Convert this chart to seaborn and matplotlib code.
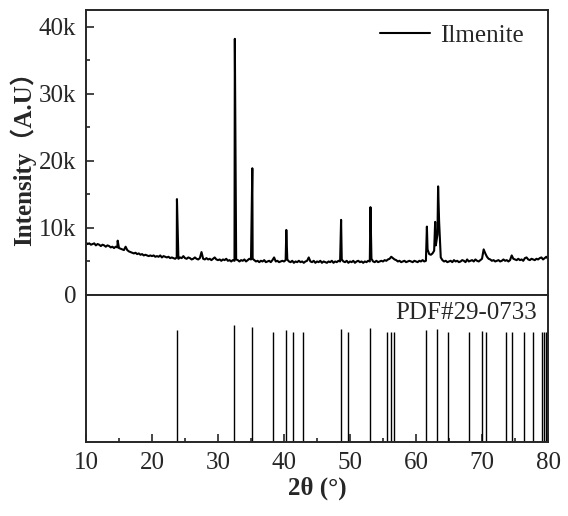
import numpy as np
import pandas as pd
import matplotlib
matplotlib.use("Agg")
import matplotlib.pyplot as plt
import seaborn as sns
from matplotlib.ticker import MultipleLocator, FuncFormatter

# measured pattern: baseline intensity (k counts) every 0.25 deg from 10 to 80
scan_start = 10.0
scan_step = 0.25
baseline_k = [
    7.8, 7.6, 7.7, 7.5, 7.6, 7.7, 7.4, 7.6, 7.5, 7.3, 7.5, 7.4, 7.2, 7.4, 7.3, 7.1, 7.2, 7.0, 7.2, 7.1,
    7.0, 6.9, 6.8, 6.7, 7.2, 6.7, 6.5, 6.4, 6.3, 6.2, 6.3, 6.1, 6.2, 6.0, 6.1, 5.9, 6.0, 5.9, 5.8, 5.9,
    5.8, 5.9, 5.7, 5.8, 5.7, 5.9, 5.6, 5.8, 5.7, 5.6, 5.7, 5.5, 5.6, 5.5, 5.4, 5.6, 5.4, 5.6, 5.5, 5.8,
    5.5, 5.4, 5.6, 5.5, 5.3, 5.4, 5.6, 5.4, 5.3, 5.5, 6.4, 5.4, 5.3, 5.5, 5.3, 5.4, 5.2, 5.4, 5.6, 5.3,
    5.2, 5.3, 5.1, 5.3, 5.2, 5.4, 5.1, 5.2, 5.0, 5.2, 5.1, 5.3, 5.2, 5.0, 5.2, 5.1, 5.3, 5.0, 5.2, 5.4,
    5.3, 5.4, 5.2, 5.0, 5.1, 4.9, 5.1, 5.0, 5.2, 4.9, 5.0, 5.1, 4.9, 5.2, 5.6, 5.0, 5.1, 4.9, 5.0, 5.1,
    5.0, 5.2, 5.3, 5.0, 4.9, 5.1, 4.8, 5.0, 4.9, 5.1, 4.9, 5.0, 4.8, 5.0, 5.1, 5.6, 5.0, 4.9, 5.1, 4.8,
    5.0, 4.9, 5.1, 4.8, 5.0, 4.9, 4.8, 5.0, 4.9, 5.1, 4.8, 5.0, 4.9, 5.1, 5.0, 5.3, 5.0, 4.9, 5.1, 4.8,
    5.0, 4.9, 5.1, 4.8, 5.0, 5.1, 4.9, 5.0, 4.8, 5.0, 4.9, 5.1, 5.0, 5.4, 5.0, 4.9, 5.1, 4.9, 5.0, 5.1,
    5.0, 5.2, 5.1, 5.3, 5.4, 5.7, 5.5, 5.3, 5.2, 5.0, 5.1, 4.9, 5.0, 5.1, 4.9, 5.0, 5.1, 5.0, 4.9, 5.1,
    5.0, 4.9, 5.1, 5.0, 5.2, 5.0, 5.1, 6.8, 6.1, 6.0, 6.2, 6.6, 7.4, 9.0, 11.0, 5.6, 5.2, 5.0, 5.1, 4.9,
    5.0, 5.1, 4.9, 5.2, 5.0, 5.1, 4.9, 5.0, 5.2, 5.1, 4.9, 5.3, 5.0, 5.1, 5.2, 5.0, 5.3, 5.1, 5.0, 5.2,
    5.4, 6.8, 6.2, 5.7, 5.4, 5.3, 5.1, 5.2, 5.0, 5.1, 5.2, 5.0, 5.1, 5.3, 5.1, 5.2, 5.0, 5.2, 5.9, 5.4,
    5.3, 5.2, 5.4, 5.2, 5.3, 5.1, 5.5, 5.6, 5.3, 5.2, 5.4, 5.3, 5.2, 5.4, 5.3, 5.5, 5.6, 5.3, 5.5, 5.7,
    5.4,
]

# peak apexes of the measured pattern
peak_two_theta = [14.8, 23.78, 32.55, 35.2, 40.35, 48.65, 53.1, 61.65, 62.9, 63.35]
peak_k = [8.1, 14.3, 38.2, 18.9, 9.7, 11.2, 13.1, 10.2, 10.9, 16.2]

# reference card PDF#29-0733 (relative stick heights)
card_two_theta = [23.74, 32.45, 35.2, 38.3, 40.26, 41.4, 42.93, 48.64, 49.75, 53.03,
                  55.56, 56.2, 56.7, 61.5, 63.2, 64.9, 68.1, 70.05, 70.6, 73.7,
                  74.6, 76.36, 77.7, 79.05, 79.4, 79.7]
card_rel = [76.2, 79.6, 78.1, 74.7, 76.2, 74.7, 74.7, 76.7, 74.7, 77.4,
            75.1, 75.1, 74.7, 76.2, 76.7, 74.7, 74.7, 75.6, 75.1, 74.7,
            75.1, 74.7, 74.7, 74.7, 74.7, 74.7]

x_ticks = [10, 20, 30, 40, 50, 60, 70, 80]

scan_x = [scan_start + i * scan_step for i in range(len(baseline_k))]
pattern = pd.DataFrame({
    "two_theta": scan_x + peak_two_theta,
    "intensity": [v * 1000 for v in baseline_k] + [v * 1000 for v in peak_k],
}).sort_values("two_theta")

sns.set_style("ticks")
plt.rcParams["font.family"] = ["Liberation Serif", "Noto Sans CJK SC"]
plt.rcParams["font.size"] = 18
plt.rcParams["axes.linewidth"] = 1.4

fig = plt.figure(figsize=(5.68, 5.16), dpi=100)
ax_top = fig.add_axes([0.1514, 0.4283, 0.8134, 0.5523])
ax_bot = fig.add_axes([0.1514, 0.1428, 0.8134, 0.2855])

sns.lineplot(data=pattern, x="two_theta", y="intensity", ax=ax_top,
             color="black", linewidth=1.5, label="Ilmenite", sort=False)
ax_top.set_xlim(10, 80)
ax_top.set_ylim(0, 42500)
ax_top.yaxis.set_major_locator(MultipleLocator(10000))
ax_top.yaxis.set_minor_locator(MultipleLocator(5000))
ax_top.yaxis.set_major_formatter(FuncFormatter(lambda v, p: "0" if v == 0 else "%dk" % (v / 1000)))
ax_top.tick_params(axis="y", which="major", direction="in", length=6, width=1.2, labelsize=18, pad=7)
ax_top.tick_params(axis="y", which="minor", direction="in", length=3, width=1.2)
ax_top.tick_params(axis="x", which="both", bottom=False, labelbottom=False)
ax_top.set_xlabel("")
ax_top.set_ylabel("Intensity（A.U）", fontsize=18, fontweight="bold", labelpad=2)
ax_top.legend(loc="upper right", bbox_to_anchor=(0.97, 0.985), frameon=False,
              fontsize=18, handlelength=2.0, handletextpad=0.4, borderaxespad=0.0)

ax_bot.vlines(card_two_theta, 0, card_rel, color="black", linewidth=1.0)
ax_bot.set_xlim(10, 80)
ax_bot.set_ylim(0, 100)
ax_bot.set_xticks(x_ticks)
ax_bot.xaxis.set_minor_locator(MultipleLocator(5))
ax_bot.tick_params(axis="x", which="major", direction="in", length=6, width=1.2, labelsize=18, pad=7)
ax_bot.tick_params(axis="x", which="minor", direction="in", length=3, width=1.2)
ax_bot.tick_params(axis="y", which="both", left=False, labelleft=False)
ax_bot.text(0.976, 0.95, "PDF#29-0733", transform=ax_bot.transAxes,
            ha="right", va="top", fontsize=18)
ax_bot.set_xlabel("2θ (°)", fontsize=18, fontweight="bold", labelpad=2)

fig.savefig("out.png", dpi=100)
